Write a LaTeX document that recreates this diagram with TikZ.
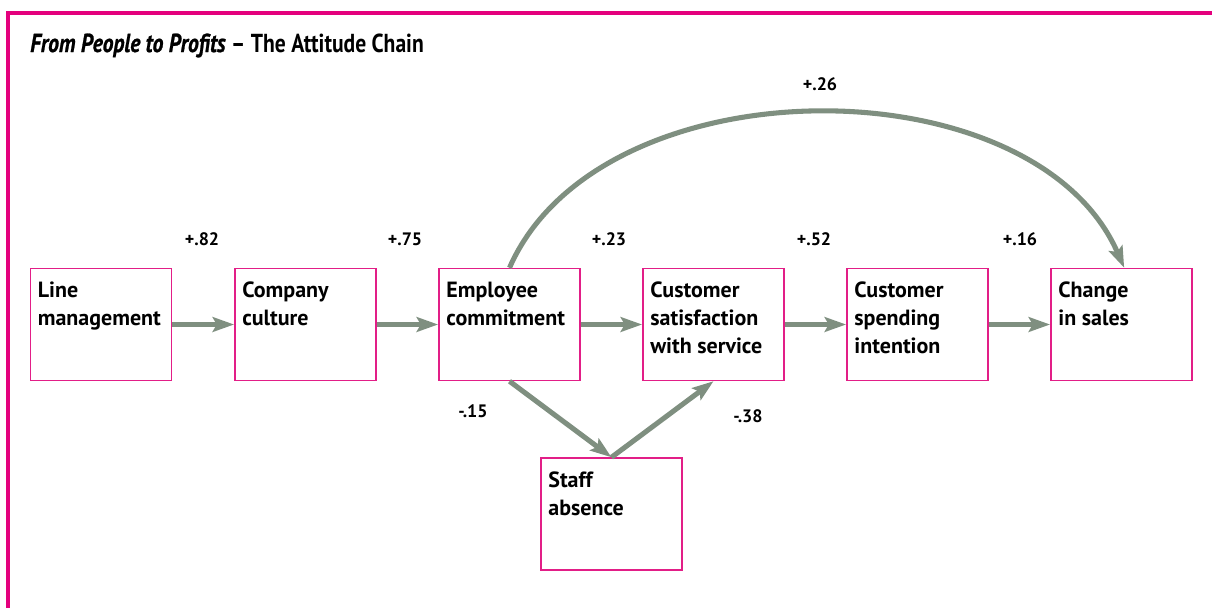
\documentclass[tikz,border=0pt]{standalone}
\usepackage{fontspec}
\setmainfont{PT Sans}[BoldItalicFeatures={FakeBold=1}]
\usetikzlibrary{arrows.meta,positioning}
\definecolor{framepink}{RGB}{228,0,125}
\definecolor{boxpink}{RGB}{226,30,135}
\definecolor{linkgrey}{RGB}{127,143,128}

\begin{document}
\begin{tikzpicture}[x=0.75pt,y=-0.75pt,
	factor/.style={draw=boxpink, line width=1.1pt, minimum width=106pt, minimum height=84pt, inner sep=0pt},
	factortext/.style={anchor=north west, align=left, inner sep=0pt, xshift=6pt, yshift=-10.5pt, font=\bfseries\fontsize{16.5}{21}\selectfont},
	link/.style={draw=linkgrey, line width=3.8pt, -{Stealth[length=16pt,width=11pt,inset=3pt]}},
	weight/.style={font=\bfseries\fontsize{13.5}{15}\selectfont}]
			%%%%% START %%%%%
			\useasboundingbox (0,0) rectangle (1212,607);
			
			\draw[draw=framepink, line width=2.3pt] (1214,13) -- (8,13) -- (8,609);
			
			\node[anchor=base west, inner sep=0pt, font=\bfseries\fontsize{19.5}{23}\selectfont] (title) at (30,52) {\scalebox{0.83}[1]{\textit{From People to Profits} – The Attitude Chain}};
			
			\node[factor, label={[factortext]north west:Line\\management}] (line) at (101,324.5) {};
			\node[factor, label={[factortext]north west:Company\\culture}] (culture) at (305.5,324.5) {};
			\node[factor, label={[factortext]north west:Employee\\commitment}] (employee) at (509.5,324.5) {};
			\node[factor, label={[factortext]north west:Customer\\satisfaction\\with service}] (satisfaction) at (713.5,324.5) {};
			\node[factor, label={[factortext]north west:Customer\\spending\\intention}] (spending) at (917.5,324.5) {};
			\node[factor, label={[factortext]north west:Change\\in sales}] (sales) at (1121.5,324.5) {};
			\node[factor, label={[factortext]north west:Staff\\absence}] (absence) at (611.5,514) {};
			
			\draw[link] (line) -- (culture);
			\draw[link] (culture) -- (employee);
			\draw[link] (employee) -- (satisfaction);
			\draw[link] (satisfaction) -- (spending);
			\draw[link] (spending) -- (sales);
			\draw[link] (employee.south) -- (absence.north);
			\draw[link] (absence.north) -- (satisfaction.south);
			\draw[link] (employee.north) .. controls (600,61) and (1034,61) .. ([xshift=2pt]sales.north);
			
			\node[weight] (w1) at (202,239) {+.82};
			\node[weight] (w2) at (405,239) {+.75};
			\node[weight] (w3) at (609,239) {+.23};
			\node[weight] (w4) at (814,239) {+.52};
			\node[weight] (w5) at (1020,239) {+.16};
			\node[weight] (w6) at (820,84) {+.26};
			\node[weight] (w7) at (473,411) {-.15};
			\node[weight] (w8) at (748,416) {-.38};
			
			%%%%% END %%%%%
\end{tikzpicture}
\end{document}
